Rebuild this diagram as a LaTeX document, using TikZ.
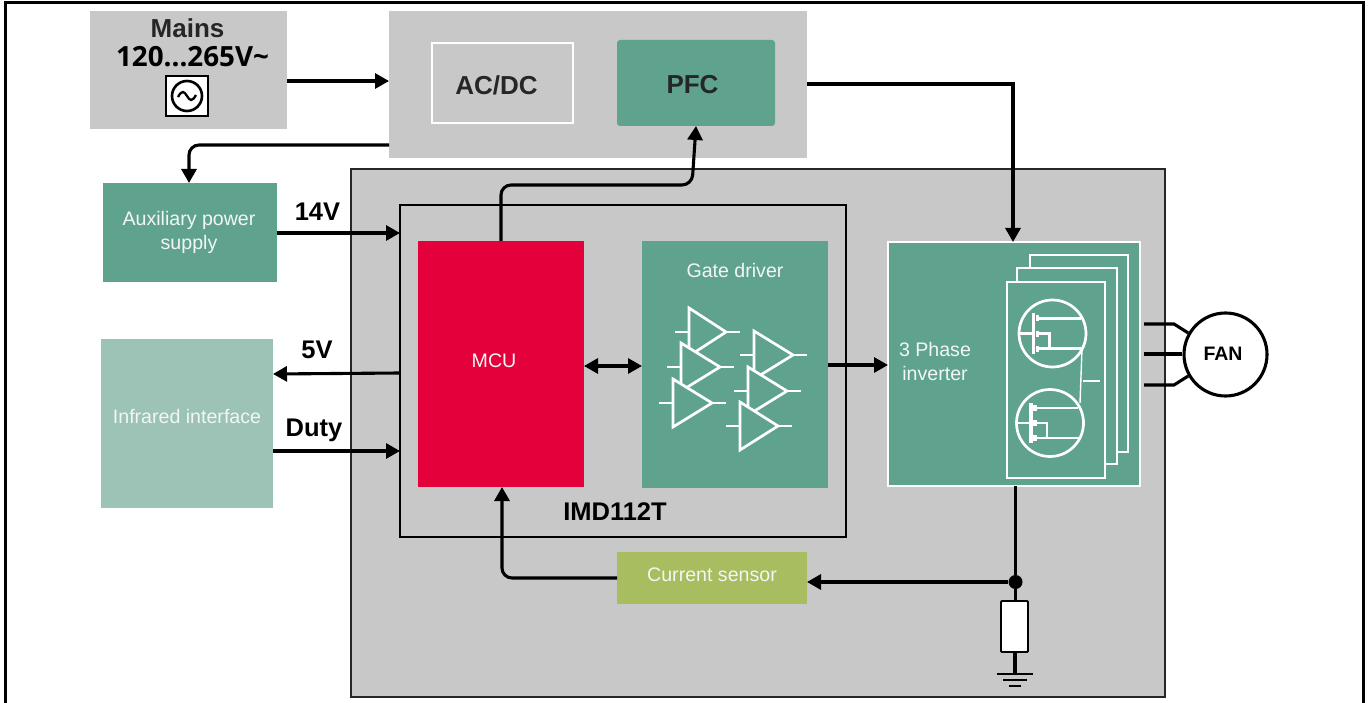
\documentclass[tikz,border=0pt]{standalone}
\usepackage{fontspec}
\setmainfont{Liberation Sans}
\newfontfamily\opensans{Open Sans}
\usetikzlibrary{arrows.meta}
\definecolor{panel}{HTML}{C8C8C8}
\definecolor{teal}{HTML}{5FA38F}
\definecolor{lightteal}{HTML}{9CC3B6}
\definecolor{mcured}{HTML}{E4003A}
\definecolor{sensorgreen}{HTML}{A8BC60}
\definecolor{wtext}{HTML}{F2F6F4}
\tikzset{
  panelbox/.style={fill=panel,draw=none},
  tealbox/.style={fill=teal,draw=none},
  wire/.style={draw=black,line width=3.1pt},
  arrowwire/.style={wire,-{Triangle[length=14pt,width=15pt]}},
  bothwire/.style={wire,{Triangle[length=14pt,width=15pt]}-{Triangle[length=14pt,width=15pt]}},
  lightlabel/.style={text=wtext,font=\fontsize{19.6}{24}\selectfont,align=center,inner sep=0pt},
  boldlabel/.style={text=black,font=\fontsize{25.5}{30}\selectfont\bfseries,align=center,inner sep=0pt},
  whiteline/.style={draw=white,line width=2.7pt},
  thinwhite/.style={draw=white,line width=1.4pt},
  card/.style={fill=teal,draw=white,line width=2.9pt},
}
\newcommand\bx[6]{\node[#6,anchor=north west,inner sep=0pt,outer sep=0pt,minimum width={(#4-#2)*1pt},minimum height={(#5-#3)*1pt}] (#1) at (#2,#3) {};}
% amplifier: left x, top y, width
\newcommand\amp[3]{%
  \draw[whiteline] (#1-14,#2+24) -- (#1,#2+24);
  \draw[whiteline] (#1+#3,#2+24) -- (#1+#3+14,#2+24);
  \draw[whiteline,fill=teal,line join=miter] (#1,#2) -- (#1+#3,#2+24) -- (#1,#2+48) -- cycle;
}
\newcommand\mosfet[2]{%
  \begin{scope}[shift={(#1,#2)}]
    \draw[whiteline] (0,0) circle (33.5);
    \draw[whiteline] (-33,0) -- (-19,0);
    \draw[draw=white,line width=3.2pt] (-19,-20) -- (-19,20);
    \draw[draw=white,line width=3.2pt] (-15,-18) -- (-15,-12) (-15,-3) -- (-15,3) (-15,12) -- (-15,18);
    \draw[whiteline] (-15,-15) -- (28,-15);
    \draw[whiteline] (-15,15) -- (29,15);
    \draw[whiteline] (-15,0) -- (-3,0) -- (-3,15);
  \end{scope}
}
\begin{document}
\begin{tikzpicture}[x=1pt,y=-1pt]
\useasboundingbox (0,0) rectangle (1368,703);
\fill[white] (0,0) rectangle (1368,703);
\draw[black,line width=3pt] (5,703) -- (5,3) -- (1363,3) -- (1363,703);

% panels
\bx{mains}{90}{11}{287}{129}{panelbox}
\bx{power}{389}{11}{807}{158}{panelbox}
\bx{acdc}{432}{43}{573}{123}{draw=white,line width=2.8pt}
\bx{pfc}{617}{40}{775}{126}{tealbox,rounded corners=3pt}
\bx{aux}{103}{183}{277}{282}{tealbox}
\bx{ir}{101}{339}{273}{508}{fill=lightteal}
\bx{chip}{351}{169}{1165}{697}{fill=panel,draw=black!85,line width=1.7pt}
\bx{imd}{400}{205}{846}{537}{draw=black,line width=1.5pt}
\bx{mcu}{418}{241}{584}{487}{fill=mcured}
\bx{gate}{642}{241}{828}{488}{tealbox}
\bx{inv}{888}{242}{1140}{486}{tealbox,draw=white,line width=1.4pt}
\bx{sensor}{617}{552}{807}{604}{fill=sensorgreen}

% mains content
\node[inner sep=0pt,text=black!85,font=\fontsize{26}{30}\selectfont\bfseries] (mainslabel) at (187.5,28) {Mains};
\node[inner sep=0pt,text=black,font=\opensans\fontsize{27.8}{32}\selectfont\bfseries] (mainsv) at (192.5,57) {120...265V\textasciitilde};
\bx{acsym}{166}{76}{208}{116}{fill=white,draw=black,line width=2.9pt}
\node[circle,draw=black,line width=2.6pt,minimum size=30pt,inner sep=0pt] (accircle) at (187,96) {};
\draw[black,line width=2.3pt] (178,97) .. controls (182,90) and (184,91) .. (187,96) .. controls (190,101) and (192,102) .. (196,95);

% labels
\node[inner sep=0pt,font=\fontsize{26}{30}\selectfont\bfseries,text=black!85] (acdclabel) at (496.5,85) {AC/DC};
\node[inner sep=0pt,font=\fontsize{26}{30}\selectfont\bfseries,text=black!85] (pfclabel) at (692.5,85) {PFC};
\node[lightlabel] (auxlabel) at (189,232) {Auxiliary power\\supply};
\node[lightlabel] (irlabel) at (187,416) {Infrared interface};
\node[lightlabel] (mculabel) at (494,361) {MCU};
\node[lightlabel] (gatelabel) at (735,270) {Gate driver};
\node[lightlabel] (invlabel) at (935,361) {3 Phase\\inverter};
\node[lightlabel] (sensorlabel) at (712,575) {Current sensor};
\node[boldlabel] (v14) at (317.5,212) {14V};
\node[boldlabel] (v5) at (317,349.5) {5V};
\node[boldlabel] (duty) at (314,430) {Duty};
\node[boldlabel] (imdlabel) at (615,511.5) {IMD112T};

% gate driver amplifiers
\amp{689}{308}{37}
\amp{681}{343}{39}
\amp{673}{379}{39}
\amp{754}{331}{39}
\amp{748}{367}{39}
\amp{740}{402}{38}

% inverter cards
\bx{cardc}{1030}{255}{1128}{452}{card}
\bx{cardb}{1017}{268}{1117}{464}{card}
\bx{carda}{1007}{282}{1105}{478}{card}
\mosfet{1052.5}{333.5}
\mosfet{1050}{423}
\draw[thinwhite] (1082,349) -- (1080,403);
\draw[thinwhite] (1083,381) -- (1100,381);

% fan
\node[circle,draw=black,fill=white,line width=3.1pt,minimum size=83pt,inner sep=0pt] (fan) at (1225.5,354.5) {};
\node[inner sep=0pt,font=\fontsize{19.5}{24}\selectfont\bfseries,text=black] (fanlabel) at (1223,354) {FAN};
\draw[wire] (1144,324) -- (1174,324) -- (fan.150);
\draw[wire] (1144,354) -- (fan.west |- 0,354);
\draw[wire] (1144,385) -- (1174,385) -- (fan.210);

% connectors
\draw[arrowwire] (mains.east |- 0,81) -- (power.west |- 0,81);
\draw[arrowwire,rounded corners=10pt] (power.west |- 0,145) -- (189,145) -- (aux.north -| 189,0);
\draw[arrowwire,rounded corners=0pt] (power.east |- 0,84) -- (1013,84) -- (inv.north -| 1013,0);
\draw[arrowwire,rounded corners=10pt] (mcu.north -| 501,0) -- (501,185) -- (692,185) -- (pfc.south);
\draw[arrowwire] (aux.east |- 0,233) -- (imd.west |- 0,233);
\draw[arrowwire] (imd.west |- 0,373) -- (ir.east |- 0,374);
\draw[arrowwire] (ir.east |- 0,451) -- (imd.west |- 0,451);
\draw[bothwire] (mcu.east |- 0,366) -- (gate.west |- 0,366);
\draw[arrowwire] (gate.east |- 0,365) -- (inv.west |- 0,365);

% shunt
\node[fill=black,circle,minimum size=14pt,inner sep=0pt] (junction) at (1015.5,582) {};
\bx{shunt}{1001}{601}{1028}{652}{fill=white,draw=black,line width=1.8pt,rounded corners=1pt}
\coordinate (gnd) at (1015,674);
\draw[wire] (inv.south -| junction) -- (junction);
\draw[wire] (junction) -- (shunt.north -| junction);
\draw[wire] (shunt.south -| gnd) -- (gnd);
\draw[black,line width=2.7pt] ([xshift=-18pt]gnd) -- ([xshift=18pt]gnd);
\draw[black,line width=2.7pt] ([xshift=-12pt,yshift=-6pt]gnd) -- ([xshift=12pt,yshift=-6pt]gnd);
\draw[black,line width=2.7pt] ([xshift=-6pt,yshift=-12pt]gnd) -- ([xshift=6pt,yshift=-12pt]gnd);
\draw[arrowwire] (junction) -- (sensor.east |- junction);
\draw[arrowwire,rounded corners=10pt] (sensor.west |- 0,578) -- (502,578) -- (mcu.south -| 502,0);
\end{tikzpicture}
\end{document}
